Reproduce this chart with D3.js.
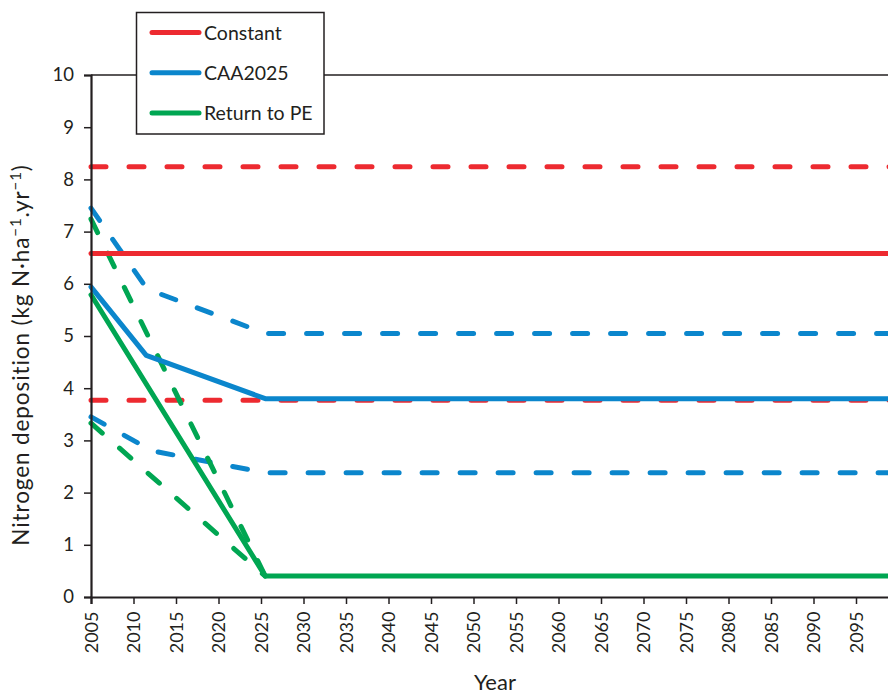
<!DOCTYPE html>
<html>
<head>
<meta charset="utf-8">
<script src="https://cdn.jsdelivr.net/npm/d3@7"></script>
<style>
  html, body { margin: 0; padding: 0; background: #fff; }
  svg { display: block; font-family: Lato, "Open Sans", sans-serif; }
</style>
</head>
<body>
<svg id="chart" width="888" height="696"></svg>
<script>
// ---- data ----
const yearTicks = d3.range(2005, 2100, 5);
const yTicks = [0,1,2,3,4,5,6,7,8,9,10];

const constantMid   = [[2005, 6.58], [2100, 6.58]];
const constantHigh  = [[2005, 8.24], [2100, 8.24]];
const constantLow   = [[2005, 3.77], [2100, 3.77]];

const caaMid  = [[2005, 5.94], [2011.5, 4.63], [2025.5, 3.80], [2100, 3.80]];
const caaHigh = [[2005, 7.45], [2011.6, 5.90], [2025.5, 5.05], [2100, 5.05]];
const caaLow  = [[2005, 3.45], [2012.2, 2.80], [2025.5, 2.38], [2100, 2.38]];

const peMid  = [[2005, 5.79], [2025.5, 0.40], [2100, 0.40]];
const peHigh = [[2005, 7.24], [2025.5, 0.40]];
const peLow  = [[2005, 3.33], [2025.5, 0.40]];

const legendLabels = ["Constant", "CAA2025", "Return to PE"];
const colors = { red: "#ED2A30", blue: "#0B86CC", green: "#00A652" };

const series = [
  { data: constantHigh, color: colors.red, dashed: true },
  { data: constantLow, color: colors.red, dashed: true },
  { data: caaHigh, color: colors.blue, dashed: true },
  { data: caaLow, color: colors.blue, dashed: true },
  { data: peHigh, color: colors.green, dashed: true },
  { data: peLow, color: colors.green, dashed: true },
  { data: constantMid, color: colors.red, dashed: false },
  { data: caaMid, color: colors.blue, dashed: false },
  { data: peMid, color: colors.green, dashed: false }
];

// ---- layout ----
const svg = d3.select("#chart");
const mLeft = 91, mTop = 75, mBottom = 597;
const x = d3.scaleLinear().domain([2005, 2100]).range([mLeft, mLeft + 95 * 8.5]);
const y = d3.scaleLinear().domain([0, 10]).range([mBottom, mTop]);

const axisColor = "#231F20";

// top frame line
svg.append("line")
  .attr("x1", mLeft).attr("x2", 888)
  .attr("y1", mTop).attr("y2", mTop)
  .attr("stroke", axisColor).attr("stroke-width", 1.5);

// lines
const line = d3.line().x(d => x(d[0])).y(d => y(d[1]));
svg.append("defs").append("clipPath").attr("id", "clip")
  .append("rect").attr("x", mLeft - 4).attr("y", mTop - 10).attr("width", 900).attr("height", mBottom - mTop + 20);

const g = svg.append("g").attr("clip-path", "url(#clip)");
series.forEach(s => {
  g.append("path")
    .attr("d", line(s.data))
    .attr("fill", "none")
    .attr("stroke", s.color)
    .attr("stroke-width", 5)
    .attr("stroke-linecap", "round")
    .attr("stroke-linejoin", "round")
    .attr("stroke-dasharray", s.dashed ? "15,23" : null);
});

// y axis
const yAxis = svg.append("g")
  .attr("transform", `translate(${mLeft},0)`)
  .call(d3.axisLeft(y).tickValues(yTicks).tickSize(7).tickPadding(10).tickFormat(d3.format("d")));
yAxis.select(".domain").attr("stroke", axisColor).attr("stroke-width", 2.2);
yAxis.selectAll(".tick line").attr("stroke", axisColor).attr("stroke-width", 1.5);
yAxis.selectAll(".tick text").attr("font-size", 18.5).attr("fill", "#231F20")
  .attr("font-family", "Lato, sans-serif");

// x axis
const xAxis = svg.append("g")
  .attr("transform", `translate(0,${mBottom})`)
  .call(d3.axisBottom(x).tickValues(yearTicks).tickSize(7).tickPadding(8).tickFormat(d3.format("d")));
xAxis.select(".domain").attr("stroke", axisColor).attr("stroke-width", 2.2);
xAxis.selectAll(".tick line").attr("stroke", axisColor).attr("stroke-width", 1.5);
xAxis.selectAll(".tick text")
  .attr("font-size", 18).attr("fill", "#231F20").attr("font-family", "Lato, sans-serif")
  .attr("transform", "rotate(-90)")
  .attr("text-anchor", "end")
  .attr("x", -14.5).attr("y", 0).attr("dy", "0.35em");

// axis titles
svg.append("text")
  .attr("x", 495).attr("y", 690)
  .attr("text-anchor", "middle")
  .attr("font-size", 22).attr("fill", "#231F20")
  .text("Year");

const yTitle = svg.append("text")
  .attr("transform", "translate(28.5,355) rotate(-90)")
  .attr("text-anchor", "middle")
  .attr("font-size", 22.5).attr("letter-spacing", 0.9).attr("fill", "#231F20");
yTitle.append("tspan").text("Nitrogen deposition (kg N·ha");
yTitle.append("tspan").attr("dy", -8).attr("font-size", 15).text("−1");
yTitle.append("tspan").attr("dy", 8).text(".yr");
yTitle.append("tspan").attr("dy", -8).attr("font-size", 15).text("−1");
yTitle.append("tspan").attr("dy", 8).text(")");

// legend
const lg = svg.append("g");
lg.append("rect")
  .attr("x", 136.5).attr("y", 12.5).attr("width", 187.5).attr("height", 121.5)
  .attr("fill", "#fff").attr("stroke", axisColor).attr("stroke-width", 1.5);
const legendColors = [colors.red, colors.blue, colors.green];
legendLabels.forEach((lab, i) => {
  const ly = 32.5 + i * 40.2;
  lg.append("line")
    .attr("x1", 152).attr("x2", 199).attr("y1", ly).attr("y2", ly)
    .attr("stroke", legendColors[i]).attr("stroke-width", 5).attr("stroke-linecap", "round");
  lg.append("text")
    .attr("x", 204).attr("y", ly).attr("dy", "0.36em")
    .attr("font-size", 19.5).attr("fill", "#231F20")
    .text(lab);
});
</script>
</body>
</html>
